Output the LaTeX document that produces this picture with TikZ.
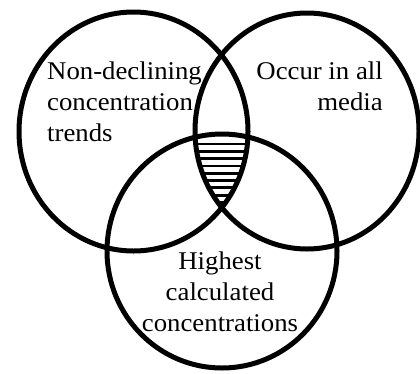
\documentclass[tikz,border=0pt]{standalone}
\usepackage{fontspec}
\setmainfont[FakeStretch=1.05]{Liberation Serif}
\begin{document}
\begin{tikzpicture}[x=1pt,y=-1pt,
  ring/.style={line width=5pt},
  hatch/.style={line width=2.8pt},
  txt/.style={inner sep=0pt, font=\fontsize{25.5}{31}\selectfont}]
\useasboundingbox (0,0) rectangle (420,373);

% the three sets
\def\setA{(133.5,131.5) ellipse [x radius=114.5, y radius=119.5]}
\def\setB{(307,131) ellipse [x radius=112, y radius=118]}
\def\setC{(222,251) ellipse [x radius=115, y radius=117]}

% hatching of the common region
\begin{scope}
  \clip \setA;
  \clip \setB;
  \clip \setC;
  \foreach \y in {144,151.3,...,205}
    \draw[hatch] (180,\y) -- (260,\y);
\end{scope}

\draw[ring] \setA;
\draw[ring] \setB;
\draw[ring] \setC;

% labels
\node[txt, anchor=base west] (a1) at (47,79) {Non-declining};
\node[txt, anchor=base west] (a2) at (47,110) {concentration};
\node[txt, anchor=base west] (a3) at (47,141) {trends};

\node[txt, anchor=base east] (b1) at (383,79) {Occur in all};
\node[txt, anchor=base east] (b2) at (383,110) {media};

\node[txt, anchor=base] (c1) at (220,269) {Highest};
\node[txt, anchor=base] (c2) at (220,300) {calculated};
\node[txt, anchor=base] (c3) at (220,331) {concentrations};
\end{tikzpicture}
\end{document}
